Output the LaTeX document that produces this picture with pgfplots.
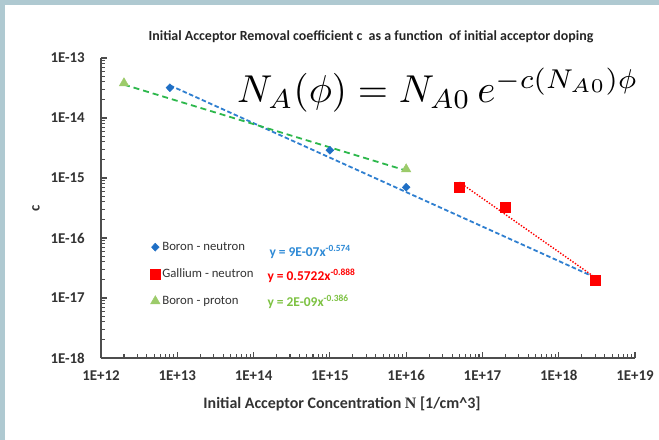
\documentclass[border=0pt]{standalone}
\usepackage{graphicx}
\usepackage{fontspec}
\setmainfont{Carlito}
\newfontfamily\serif{Liberation Serif}
\usepackage{pgfplots}
\pgfplotsset{compat=1.18}

\definecolor{frame}{HTML}{AFC9D1}
\definecolor{bnblue}{HTML}{1F6FC5}
\definecolor{fitblue}{HTML}{2F7FD0}
\definecolor{gared}{HTML}{FF0000}
\definecolor{prgreen}{HTML}{9CCB6A}
\definecolor{fitgreen}{HTML}{2DB84C}
\definecolor{eqgreen}{HTML}{7DC242}
\definecolor{eqblue}{HTML}{2E8AD6}
\definecolor{axgray}{HTML}{4D4D4D}
\definecolor{txtgray}{HTML}{333333}

\begin{document}
\begin{tikzpicture}[x=1bp,y=1bp]
  % slide frame
  \fill[frame] (0,0) rectangle (659,440);
  \fill[white] (5,0) rectangle (659,435);
  \path[use as bounding box] (0,0) rectangle (659,440);

  \begin{axis}[
    at={(101bp,82bp)}, anchor=south west,
    scale only axis,
    width=534bp, height=300bp,
    xmode=log, ymode=log,
    xmin=1e12, xmax=1e19,
    ymin=1e-18, ymax=1e-13,
    axis x line*=bottom, axis y line*=left,
    axis line style={-, draw=axgray, line width=1.2bp},
    xtick align=inside, ytick align=inside,
    every tick/.style={draw=axgray, line width=1.1bp},
    major tick length=6bp,
    minor tick length=4bp,
    xtick={1e12,1e13,1e14,1e15,1e16,1e17,1e18,1e19},
    xticklabels={1E+12,1E+13,1E+14,1E+15,1E+16,1E+17,1E+18,1E+19},
    minor xtick={2e12,3e12,4e12,5e12,6e12,7e12,8e12,9e12,
                 2e13,3e13,4e13,5e13,6e13,7e13,8e13,9e13,
                 2e14,3e14,4e14,5e14,6e14,7e14,8e14,9e14,
                 2e15,3e15,4e15,5e15,6e15,7e15,8e15,9e15,
                 2e16,3e16,4e16,5e16,6e16,7e16,8e16,9e16,
                 2e17,3e17,4e17,5e17,6e17,7e17,8e17,9e17,
                 2e18,3e18,4e18,5e18,6e18,7e18,8e18,9e18},
    ytick={1e-18,1e-17,1e-16,1e-15,1e-14,1e-13},
    yticklabels={},
    minor ytick={2e-18,3e-18,4e-18,5e-18,6e-18,7e-18,8e-18,9e-18,
                 2e-17,3e-17,4e-17,5e-17,6e-17,7e-17,8e-17,9e-17,
                 2e-16,3e-16,4e-16,5e-16,6e-16,7e-16,8e-16,9e-16,
                 2e-15,3e-15,4e-15,5e-15,6e-15,7e-15,8e-15,9e-15,
                 2e-14,3e-14,4e-14,5e-14,6e-14,7e-14,8e-14,9e-14},
    ticklabel style={font=\fontsize{15}{17}\selectfont\bfseries, text=txtgray},
    xticklabel style={yshift=-9bp},
    legend style={at={(axis description cs:0.092,0.393)}, anchor=north west,
                  draw=none, fill=none, font=\fontsize{12.8}{14}\selectfont,
                  text=txtgray, row sep=13bp, inner sep=0pt},
    legend cell align=left,
    legend image code/.code={\draw[mark repeat=2,mark phase=2,#1]
      plot coordinates {(0bp,0bp)(6bp,0bp)(12bp,0bp)};},
  ]
    % power-law trend lines (straight in log-log)
    \addplot[fitblue, line width=1.8bp, dash pattern=on 4.5bp off 2.5bp, forget plot]
      coordinates {(8e12,3.5e-14)(3e18,2.2e-17)};
    \addplot[fitgreen, line width=1.8bp, dash pattern=on 6bp off 4bp, forget plot]
      coordinates {(2e12,3.6e-14)(1e16,1.33e-15)};
    \addplot[gared, line width=1.4bp, dash pattern=on 1.4bp off 1.6bp, forget plot]
      coordinates {(5e16,8.5e-16)(3e18,2.2e-17)};

    % measured points
    \addplot[only marks, mark=diamond*, mark size=4bp, color=bnblue,
             mark options={xscale=1.3}]
      coordinates {(8e12,3.2e-14)(1e15,2.9e-15)(1e16,7e-16)(3e18,2e-17)};
    \addlegendentry{Boron - neutron}
    \addplot[only marks, mark=square*, mark size=5bp, color=gared]
      coordinates {(5e16,7e-16)(2e17,3.3e-16)(3e18,2e-17)};
    \addlegendentry{Gallium - neutron}
    \addplot[only marks, mark=triangle*, mark size=5.5bp, color=prgreen]
      coordinates {(2e12,3.8e-14)(1e16,1.4e-15)};
    \addlegendentry{Boron - proton}
  \end{axis}

  % y tick labels, right-aligned left of the axis
  \foreach \lab [count=\i from 0] in {1E-18,1E-17,1E-16,1E-15,1E-14,1E-13}
    \node[anchor=east, inner sep=0pt, font=\fontsize{15}{17}\selectfont\bfseries, text=txtgray]
      at (85,82+60*\i) {\lab};

  % fit equations
  \node[anchor=west, text=eqblue, font=\fontsize{13.5}{15}\selectfont\bfseries]
    at (266,188) {y = 9E-07x\textsuperscript{-0.574}};
  \node[anchor=west, text=gared, font=\fontsize{13.5}{15}\selectfont\bfseries]
    at (264,164) {y = 0.5722x\textsuperscript{-0.888}};
  \node[anchor=west, text=eqgreen, font=\fontsize{13.5}{15}\selectfont\bfseries]
    at (264,138) {y = 2E-09x\textsuperscript{-0.386}};

  % titles
  \node[font=\fontsize{14}{16}\selectfont\bfseries, text=black!85]
    at (371,403) {Initial Acceptor Removal coefficient c\ \ as a function\ \ of initial acceptor doping};
  \node[font=\fontsize{16}{18}\selectfont\bfseries, text=txtgray]
    at (342,36) {Initial Acceptor Concentration {\serif N} [1/cm\textasciicircum 3]};
  \node[rotate=90, font=\fontsize{15}{17}\selectfont\bfseries, text=txtgray]
    at (36,232) {c};

  % removal law
  \node[anchor=base west, inner sep=0pt]
    at (237,337) {\scalebox{3.9}{$N_A(\phi) = N_{A0}\, e^{-c(N_{A0})\phi}$}};
\end{tikzpicture}
\end{document}
